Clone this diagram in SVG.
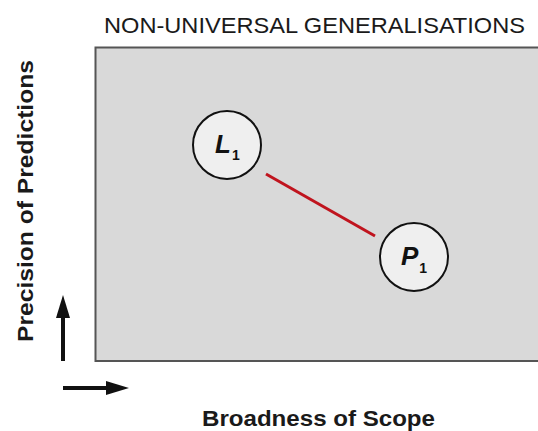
<svg xmlns="http://www.w3.org/2000/svg" width="538" height="431" viewBox="0 0 538 431">
<style>
.t{font-family:"Liberation Sans",Arial,sans-serif;fill:#1a1a1a}
.ax{font-weight:bold;font-size:22.5px}
.node circle{fill:#efefef;stroke:#111;stroke-width:2}
.lbl{font-family:"Liberation Sans",Arial,sans-serif;font-weight:bold;font-style:italic;font-size:26px;fill:#111}
.sub{font-style:normal;font-size:14px}
</style>
<rect width="538" height="431" fill="#fff"/>
<text class="t" x="104" y="32.5" font-size="21.5" textLength="421" lengthAdjust="spacingAndGlyphs">NON-UNIVERSAL GENERALISATIONS</text>
<rect id="plot" x="95.5" y="47.5" width="450" height="313.5" fill="#d9d9d9" stroke="#555" stroke-width="2"/>
<g id="connectors">
<line x1="266" y1="174" x2="375" y2="236" stroke="#c0141e" stroke-width="3"/>
</g>
<g id="L1" class="node">
<circle cx="227" cy="145" r="34"/>
<text class="lbl" x="215" y="153">L<tspan class="sub" dy="7" dx="1">1</tspan></text>
</g>
<g id="P1" class="node">
<circle cx="414" cy="257" r="34"/>
<text class="lbl" x="401" y="265">P<tspan class="sub" dy="8" dx="1">1</tspan></text>
</g>
<g id="axes">
<line x1="63" y1="361" x2="63" y2="312" stroke="#111" stroke-width="4"/>
<polygon points="56,318 70,318 63,295" fill="#111"/>
<line x1="63" y1="388" x2="110" y2="388" stroke="#111" stroke-width="4"/>
<polygon points="106,381 106,395 129,388" fill="#111"/>
<text class="t ax" x="202" y="426" textLength="233" lengthAdjust="spacingAndGlyphs">Broadness of Scope</text>
<text class="t ax" transform="translate(33,342) rotate(-90)" x="0" y="0" textLength="282" lengthAdjust="spacingAndGlyphs">Precision of Predictions</text>
</g>
</svg>
